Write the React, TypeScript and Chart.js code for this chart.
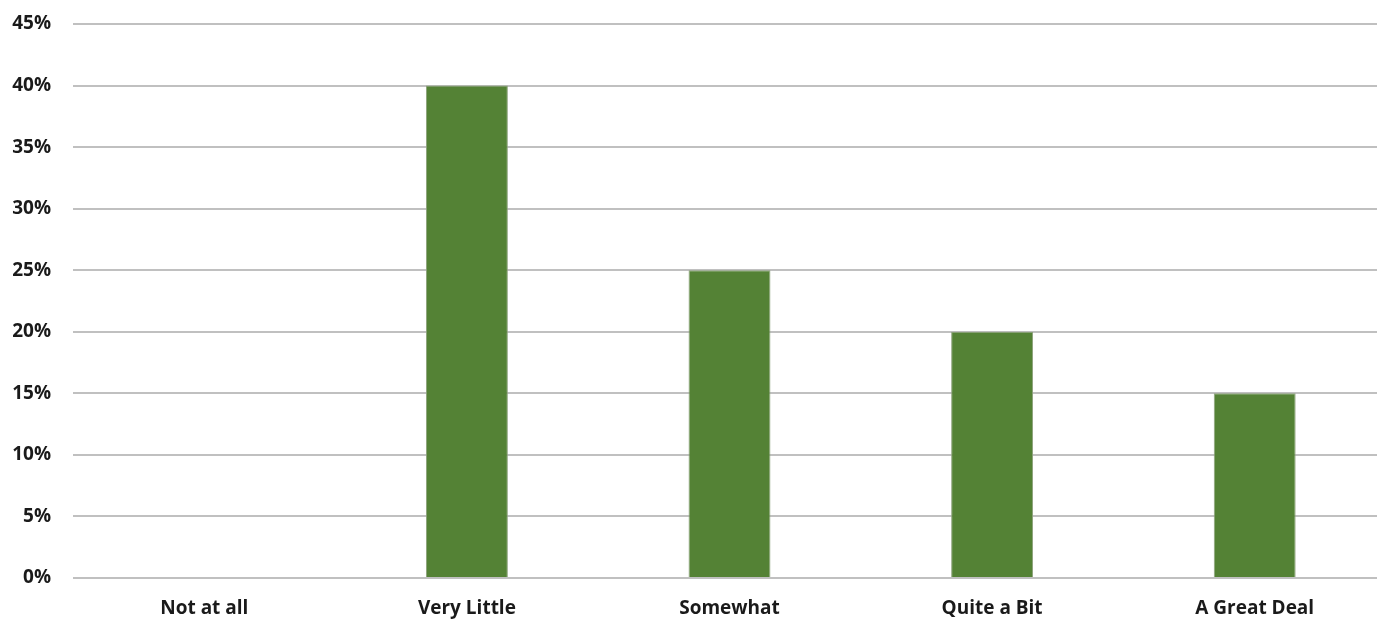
import React, { useEffect, useRef } from "react";
import { Chart, registerables } from "chart.js";

Chart.register(...registerables);

const categories = ["Not at all", "Very Little", "Somewhat", "Quite a Bit", "A Great Deal"];
const values = [0, 40, 25, 20, 15];
const yTicks = [0, 5, 10, 15, 20, 25, 30, 35, 40, 45];

export default function App() {
  const ref = useRef<HTMLCanvasElement | null>(null);
  useEffect(() => {
    if (!ref.current) return;
    const chart = new Chart(ref.current, {
      type: "bar",
      data: {
        labels: categories,
        datasets: [
          {
            data: values,
            backgroundColor: "#548235",
            borderColor: "#8da27c",
            borderWidth: 1,
            categoryPercentage: 1,
            barPercentage: 0.312,
          },
        ],
      },
      options: {
        animation: false,
        responsive: false,
        maintainAspectRatio: false,
        layout: { padding: { top: 24, right: 9, left: 0, bottom: 0 } },
        plugins: { legend: { display: false }, tooltip: { enabled: false } },
        scales: {
          x: {
            grid: { display: false, drawTicks: false },
            border: { display: false },
            ticks: {
              padding: 19,
              color: "#1a1a1a",
              font: { family: "Open Sans", size: 19, weight: "bold" },
              maxRotation: 0,
            },
            afterFit: (scale: any) => {
              scale.height = 41;
            },
          },
          y: {
            min: 0,
            max: 45,
            afterBuildTicks: (scale: any) => {
              scale.ticks = yTicks.map((v) => ({ value: v }));
            },
            grid: { color: "#c0c0c0", lineWidth: 2, drawTicks: false },
            border: { display: false },
            ticks: {
              padding: 22,
              color: "#1a1a1a",
              font: { family: "Open Sans", size: 19, weight: "bold" },
              callback: (v: any) => `${v}%`,
            },
            afterFit: (scale: any) => {
              scale.width = 73;
              scale.paddingTop = 0;
              scale.paddingBottom = 0;
            },
          },
        },
      },
    });
    return () => chart.destroy();
  }, []);
  return (
    <div style={{ position: "fixed", left: 0, top: 0, width: 1377, height: 619, overflow: "hidden", background: "#fff" }}>
      <canvas ref={ref} width={1395} height={619} style={{ width: 1395, height: 619, display: "block" }} />
    </div>
  );
}
